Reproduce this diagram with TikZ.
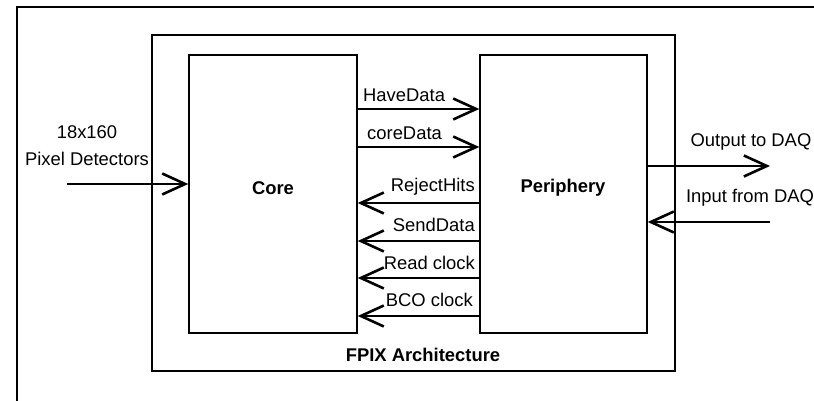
\documentclass[tikz,border=0pt]{standalone}
\usepackage{fontspec}
\setmainfont{Liberation Sans}
\usetikzlibrary{arrows.meta}
\tikzset{
  box/.style={draw, line width=1.4pt, minimum width=0pt, minimum height=0pt, inner sep=0pt},
  sig/.style={line width=2.6pt, -{Straight Barb[length=23pt,width=21pt,line width=2.6pt]}},
  txt/.style={inner sep=0pt, font=\fontsize{18.4}{22}\selectfont},
  btxt/.style={inner sep=0pt, font=\fontsize{18.4}{22}\selectfont\bfseries},
}
\begin{document}
\begin{tikzpicture}[x=1pt,y=-1pt]
\useasboundingbox (0,0) rectangle (814,401);
% outer frame
\coordinate (fbl) at (17,401);
\coordinate (ftl) at (17,7);
\coordinate (ftr) at (814,7);
\draw[line width=1.6pt] (fbl) -- (ftl) -- (ftr);
% boxes
\node[box, minimum width=523pt, minimum height=336pt] (arch) at (413.5,203) {};
\node[box, minimum width=168pt, minimum height=278pt] (core) at (273,194) {};
\node[box, minimum width=167pt, minimum height=278pt] (peri) at (563.5,194) {};
% box labels
\node[btxt] (corelbl) at (273,188) {Core};
\node[btxt] (perilbl) at (563,188) {Periphery};
\node[btxt] (archlbl) at (423,355) {FPIX Architecture};
% input detectors
\node[txt] (det1) at (87,132) {18x160};
\node[txt] (det2) at (87,159) {Pixel Detectors};
\coordinate (detin) at (67,184);
\draw[sig] (detin) -- (core.west |- 0,184);
% core -> periphery
\draw[sig] (core.east |- 0,109) -- (peri.west |- 0,109);
\node[txt, anchor=west] (hd) at (363,95) {HaveData};
\draw[sig] (core.east |- 0,147) -- (peri.west |- 0,147);
\node[txt, anchor=west] (cd) at (367,133) {coreData};
% periphery -> core
\draw[sig] (peri.west |- 0,203) -- (core.east |- 0,203);
\node[txt, anchor=east] (rh) at (475,187) {RejectHits};
\draw[sig] (peri.west |- 0,241) -- (core.east |- 0,241);
\node[txt, anchor=east] (sd) at (475,225) {SendData};
\draw[sig] (peri.west |- 0,278) -- (core.east |- 0,278);
\node[txt, anchor=east] (rc) at (475,263) {Read clock};
\draw[sig] (peri.west |- 0,316) -- (core.east |- 0,316);
\node[txt, anchor=east] (bc) at (473,300) {BCO clock};
% DAQ
\coordinate (daqout) at (770,166);
\coordinate (daqin) at (770,222);
\draw[sig] (peri.east |- 0,166) -- (daqout);
\node[txt] (outl) at (751,142) {Output to DAQ};
\draw[sig] (daqin) -- (peri.east |- 0,222);
\node[txt] (inl) at (750,198) {Input from DAQ};
\end{tikzpicture}
\end{document}
